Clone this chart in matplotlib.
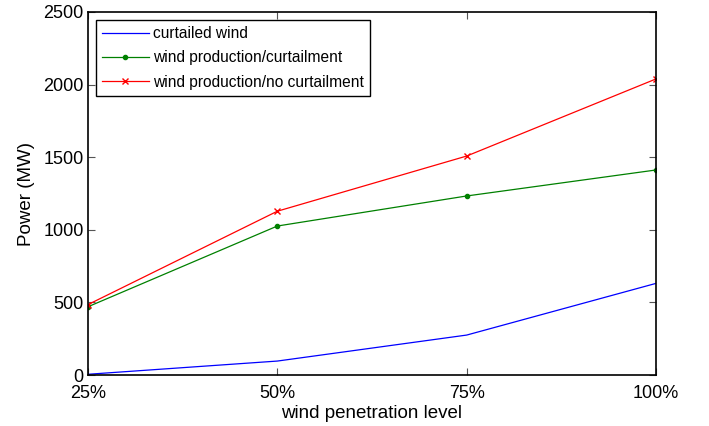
import matplotlib
matplotlib.use("Agg")
import matplotlib.pyplot as plt

# wind penetration levels and power (MW)
levels = ["25%", "50%", "75%", "100%"]
curtailed = [5, 96, 275, 631]
prod_curtail = [470, 1026, 1233, 1412]
prod_no_curtail = [485, 1128, 1508, 2039]

plt.rcParams["font.family"] = ["Liberation Sans", "DejaVu Sans"]

fig = plt.figure(figsize=(7.09, 4.26), dpi=100)
ax = fig.add_axes([88 / 709, 1 - 375 / 426, (656 - 88) / 709, (375 - 12) / 426])

x = list(range(len(levels)))
ax.plot(x, curtailed, color="blue", linewidth=0.9, label="curtailed wind")
ax.plot(x, prod_curtail, color="green", linewidth=0.9, marker=".", markersize=6,
        label="wind production/curtailment")
ax.plot(x, prod_no_curtail, color="red", linewidth=0.9, marker="x", markersize=4,
        markeredgewidth=1, label="wind production/no curtailment")

ax.set_xlim(0, 3)
ax.set_ylim(0, 2500)
ax.set_xticks(x)
ax.set_xticklabels(levels)
ax.set_yticks(range(0, 2501, 500))
ax.tick_params(direction="in", top=True, right=True, labelsize=13, length=5,
               width=0.8, color="#555555")
ax.tick_params(axis="x", pad=7)
ax.tick_params(axis="y", pad=3)
for s in ax.spines.values():
    s.set_linewidth(1.2)
ax.set_xlabel("wind penetration level", fontsize=13.5, labelpad=2)
ax.set_ylabel("Power (MW)", fontsize=13.5, labelpad=6)

leg = ax.legend(loc="upper left", fontsize=11.2, fancybox=False, framealpha=1,
                edgecolor="black", borderaxespad=0.5, handlelength=3.0,
                handletextpad=0.3, labelspacing=0.6, borderpad=0.4)
leg.get_frame().set_linewidth(1.0)

fig.savefig("out.png", dpi=100)
